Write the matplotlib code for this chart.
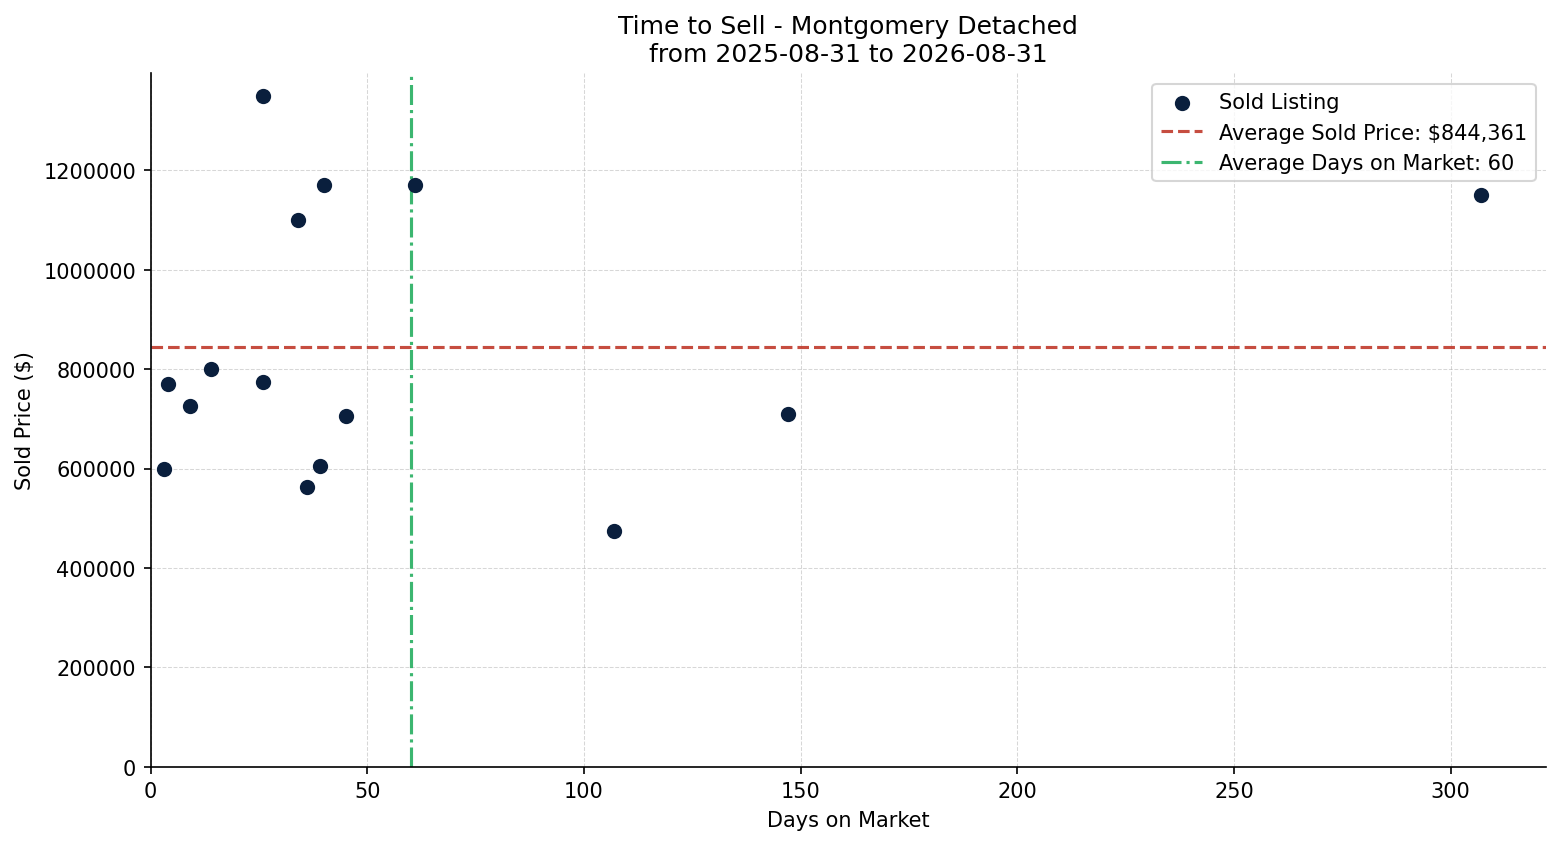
import matplotlib
matplotlib.use("Agg")
import matplotlib.pyplot as plt

# days on market / sold price
days = [26, 40, 34, 61, 4, 14, 9, 26, 45, 3, 39, 36, 107, 147, 307]
prices = [1350000, 1170000, 1100000, 1170000, 770000, 800000, 725000, 775000,
          705000, 600000, 605000, 563000, 475000, 710000, 1150000]
avg_price = 844361
avg_days = 60

fig, ax = plt.subplots(figsize=(10.4, 5.633), dpi=150)

ax.scatter(days, prices, color="#0a1f3d", s=40, zorder=3, label="Sold Listing")
ax.axhline(avg_price, color="#c0392b", linestyle="--", linewidth=1.5, alpha=0.9,
           label=f"Average Sold Price: ${avg_price:,}")
ax.axvline(avg_days, color="#27ae60", linestyle="-.", linewidth=1.5, alpha=0.9,
           label=f"Average Days on Market: {avg_days}")

ax.set_xlim(0, 322)
ax.set_ylim(0, 1395000)
ax.ticklabel_format(style="plain", axis="y")
ax.grid(linestyle="--", linewidth=0.5, alpha=0.5)
ax.spines["top"].set_visible(False)
ax.spines["right"].set_visible(False)

ax.set_title("Time to Sell - Montgomery Detached\nfrom 2025-08-31 to 2026-08-31")
ax.set_xlabel("Days on Market")
ax.set_ylabel("Sold Price ($)")
ax.legend(loc="upper right")

fig.subplots_adjust(left=0.0965, right=0.991, bottom=0.0915, top=0.912)
fig.savefig("out.png")
